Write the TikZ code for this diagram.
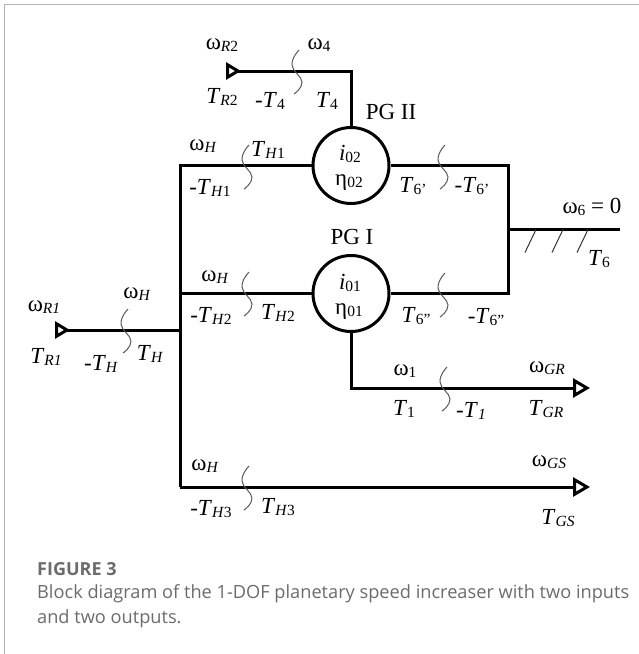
\documentclass[tikz,border=0pt]{standalone}
\usepackage{fontspec}
\usetikzlibrary{arrows.meta}
\setmainfont{Liberation Serif}
\newfontfamily\capfont{Open Sans}
\newcommand{\lowtxt}[1]{{\fontsize{15.5}{15.5}\selectfont\raisebox{-1.5pt}{#1}}}
\newcommand{\Tq}[1]{\textit{T}\lowtxt{#1}}
\newcommand{\Wq}[1]{ω\lowtxt{#1}}
\begin{document}
\begin{tikzpicture}[x=1pt,y=-1pt,
	shaft/.style={line width=3pt,color=black},
	inport/.style={shaft,{Triangle[open,reversed,length=15pt,width=17pt,line width=3pt]}-},
	outport/.style={shaft,-{Triangle[open,length=17pt,width=19pt,line width=3pt]}},
	gear/.style={draw,circle,line width=3pt,minimum size=76pt,inner sep=0pt},
	squig/.style={line width=1pt,color=black!65},
	lab/.style={inner sep=0pt,font=\fontsize{23}{23}\selectfont},
	capline/.style={inner sep=0pt,anchor=base west,text=black!58,font=\capfont\fontsize{18.2}{18.2}\selectfont}]
\useasboundingbox (0,0) rectangle (639,654);
% frame
\coordinate (frameA) at (4.5,654);
\coordinate (frameB) at (4.5,4);
\coordinate (frameC) at (639,4);
\draw[color=black!30,line width=1pt] (frameA) -- (frameB) -- (frameC);
% gear sets
\node[gear] (pgtwo) at (351,165.5) {};
\node[gear] (pgone) at (351,293.5) {};
% junctions and ports
\coordinate (rtwo) at (226,71);
\coordinate (rtwocorner) at (351,71);
\coordinate (rone) at (55,330);
\coordinate (hubtop) at (180,165.5);
\coordinate (hubmid) at (180,293.5);
\coordinate (hubin) at (180,330);
\coordinate (hubbot) at (180,487);
\coordinate (gsout) at (590,487);
\coordinate (ringtop) at (508,165.5);
\coordinate (ringbot) at (508,293.5);
\coordinate (ringmid) at (508,229.5);
\coordinate (fixed) at (620,229.5);
\coordinate (grcorner) at (351,388);
\coordinate (grout) at (590,388);
% shafts
\draw[inport] (rtwo) -- (rtwocorner) -- (pgtwo.north);
\draw[inport] (rone) -- (hubin);
\draw[shaft] (pgtwo.west) -- (hubtop) -- (hubbot);
\draw[outport] (hubbot) -- (gsout);
\draw[shaft] (hubmid) -- (pgone.west);
\draw[shaft] (pgtwo.east) -- (ringtop) -- (ringbot) -- (pgone.east);
\draw[shaft] (ringmid) -- (fixed);
\draw[outport] (pgone.south) -- (grcorner) -- (grout);
% hatching
\foreach \x in {536,563,588} {
	\draw[line width=1pt,color=black!80] (\x,229.5) -- ++(-11,23);
}
% cuts
\foreach \x/\y in {299/50,249/145,445/145,445/273,249/272,128/309,447/367,249/466} {
	\draw[squig,shift={(\x,\y)}] plot[smooth,tension=0.8] coordinates {(0,0) (-7,15) (3,32) (-5,44)};
}
% labels
\node[lab] (wrtwo) at (222,45) {\Wq{\textit{R}2}};
\node[lab] (wfour) at (319,45) {\Wq{4}};
\node[lab] (trtwo) at (222,97) {\Tq{\textit{R}2}};
\node[lab] (mtfour) at (270,101) {-\Tq{4}};
\node[lab] (tfour) at (327,101) {\Tq{4}};
\node[lab] (pgiilab) at (391,112) {PG II};
\node[lab] (whone) at (203,146) {\Wq{\textit{H}}};
\node[lab] (thone) at (268,150) {\Tq{\textit{H}1}};
\node[lab] (mthone) at (210,188) {-\Tq{\textit{H}1}};
\node[lab] (itwo) at (350,154) {\textit{i}\lowtxt{02}};
\node[lab] (etatwo) at (349,183) {η\lowtxt{02}};
\node[lab] (tsixa) at (413,186) {\Tq{6’}};
\node[lab] (mtsixa) at (472,186) {-\Tq{6’}};
\node[lab] (wsix) at (592,207) {\Wq{6} = 0};
\node[lab] (tsix) at (599,259) {\Tq{6}};
\node[lab] (pgilab) at (352,237) {PG I};
\node[lab] (ione) at (350,283) {\textit{i}\lowtxt{01}};
\node[lab] (etaone) at (349,312) {η\lowtxt{01}};
\node[lab] (tsixb) at (416,316) {\Tq{6”}};
\node[lab] (mtsixb) at (486,317) {-\Tq{6”}};
\node[lab] (wgr) at (547,368) {\Wq{\textit{GR}}};
\node[lab] (wone) at (405,371) {\Wq{1}};
\node[lab] (tone) at (404,409) {\Tq{1}};
\node[lab] (mtone) at (471,411) {-\Tq{\textit{1}}};
\node[lab] (tgr) at (546,409) {\Tq{\textit{GR}}};
\node[lab] (wgs) at (549,462) {\Wq{\textit{GS}}};
\node[lab] (tgs) at (558,518) {\Tq{\textit{GS}}};
\node[lab] (wrone) at (44,307) {\Wq{\textit{R1}}};
\node[lab] (trone) at (46,357) {\Tq{\textit{R1}}};
\node[lab] (whin) at (137,294) {\Wq{\textit{H}}};
\node[lab] (mth) at (101,364) {-\Tq{\textit{H}}};
\node[lab] (th) at (150,354) {\Tq{\textit{H}}};
\node[lab] (whtwo) at (215,277) {\Wq{\textit{H}}};
\node[lab] (mthtwo) at (211,316) {-\Tq{\textit{H}2}};
\node[lab] (thtwo) at (278,313) {\Tq{\textit{H}2}};
\node[lab] (whthree) at (205,466) {\Wq{\textit{H}}};
\node[lab] (mththree) at (211,509) {-\Tq{\textit{H}3}};
\node[lab] (ththree) at (278,507) {\Tq{\textit{H}3}};
% caption
\node[capline,font=\capfont\bfseries\fontsize{18}{18}\selectfont] (capfig) at (37,575) {FIGURE 3};
\node[capline] (capone) at (37,598) {Block diagram of the 1-DOF planetary speed increaser with two inputs};
\node[capline] (captwo) at (37,623) {and two outputs.};
\end{tikzpicture}
\end{document}
